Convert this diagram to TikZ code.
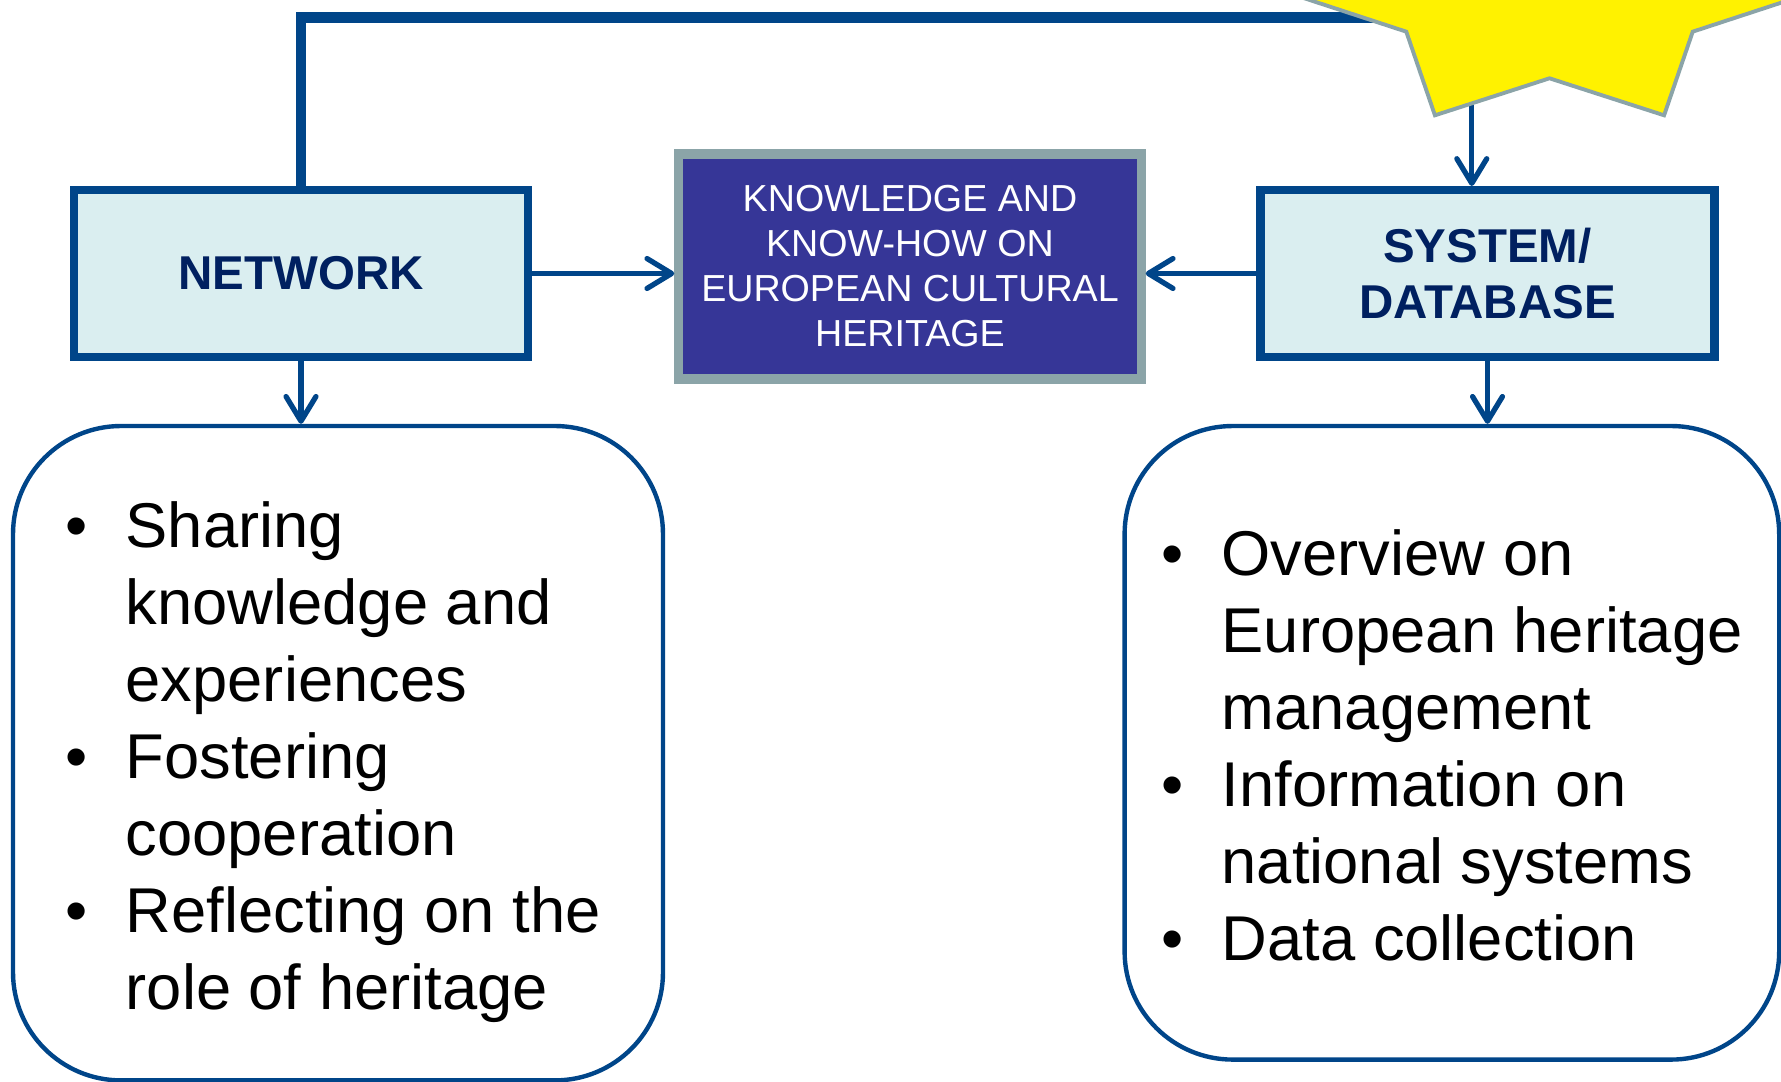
\documentclass[tikz,border=0pt]{standalone}
\usepackage{fontspec}
\setmainfont{Liberation Sans}
\usetikzlibrary{arrows.meta}
\definecolor{boxblue}{RGB}{0,69,137}
\definecolor{titlenavy}{RGB}{0,32,96}
\definecolor{lightcyan}{RGB}{218,238,240}
\definecolor{knowblue}{RGB}{54,54,151}
\definecolor{greyedge}{RGB}{139,164,168}
\newcommand{\listbul}{\makebox[0.6cm][l]{\textbullet}}
\newcommand{\listgap}{\hspace*{0.6cm}}

\begin{document}
\begin{tikzpicture}[x=0.01cm, y=-0.01cm,
  titlebox/.style={draw=boxblue, line width=2.4pt, fill=lightcyan, minimum width=4.535cm, minimum height=1.665cm, inner sep=0pt, align=center, text=titlenavy, font=\fontsize{13.5}{16.1}\selectfont\bfseries},
  knowbox/.style={draw=greyedge, line width=2.6pt, fill=knowblue, minimum width=4.62cm, minimum height=2.25cm, inner sep=0pt, align=center, text=white, font=\fontsize{10.7}{12.8}\selectfont},
  listbox/.style={draw=boxblue, line width=1.25pt, rounded corners=1.08cm, inner sep=0pt},
  listtext/.style={anchor=base west, inner sep=0pt, font=\fontsize{18}{21.9}\selectfont},
  link/.style={draw=boxblue, line width=1.5pt, -{Straight Barb[length=7pt,width=8.5pt,round]}},
  topline/.style={draw=boxblue, line width=3pt},
  starfill/.style={fill=yellow, draw=greyedge, line width=1.1pt}]
\useasboundingbox (0,0) rectangle (1781,1082);
\clip (0,0) rectangle (1781,1082);
\node[titlebox] (network) at (301,273.5) {NETWORK};
\node[titlebox] (system) at (1487.5,273.5) {SYSTEM/\\DATABASE};
\node[knowbox] (knowhow) at (910,266.5) {KNOWLEDGE AND\\KNOW-HOW ON\\EUROPEAN CULTURAL\\HERITAGE};
\node[listbox, minimum width=6.496cm, minimum height=6.54cm] (leftbox) at (338,753.2) {};
\node[listbox, minimum width=6.542cm, minimum height=6.332cm] (rightbox) at (1451.9,742.8) {};
\node[listtext] (sharelist) at (65,547.5) {\parbox[t]{6cm}{\listbul Sharing\\
  \listgap knowledge and\\
  \listgap experiences\\
  \listbul Fostering\\
  \listgap cooperation\\
  \listbul Reflecting on the\\
  \listgap role of heritage}};
\node[listtext] (overviewlist) at (1161,575.3) {\parbox[t]{6cm}{\listbul Overview on\\
  \listgap European heritage\\
  \listgap management\\
  \listbul Information on\\
  \listgap national systems\\
  \listbul Data collection}};
\coordinate (starleft) at (1380,17.5);
\coordinate (starfoot) at (1471.8,100);
\draw[topline] (network.north) |- (starleft);
\draw[link] (starfoot) -- (starfoot |- system.north);
\filldraw[starfill] (1549.5,78.3) \foreach \k in {0,...,6} {
  -- ({1549.5+264.1*cos(-90+(\k+0.5)*360/7)},{-45.5-178.5*sin(-90+(\k+0.5)*360/7)})
  -- ({1549.5+183.2*cos(-90+(\k+1)*360/7)},{-45.5-123.8*sin(-90+(\k+1)*360/7)})
} -- cycle;
\draw[link] (network.east) -- (network.east -| knowhow.west);
\draw[link] (system.west) -- (system.west -| knowhow.east);
\draw[link] (network.south) -- (network.south |- leftbox.north);
\draw[link] (system.south) -- (system.south |- rightbox.north);
\end{tikzpicture}
\end{document}
